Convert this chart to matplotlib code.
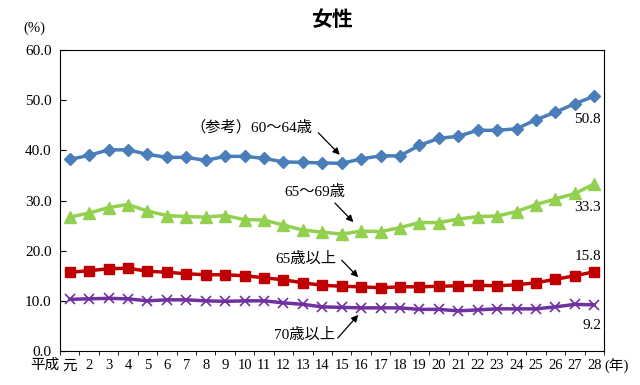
"""女性 employment rate chart."""
import matplotlib.pyplot as plt

plt.rcParams['font.family'] = ['Liberation Serif', 'Noto Sans CJK JP']

# %% Data
years = ['元'] + [str(i) for i in range(2, 29)]

age_60_64 = [38.2, 39.0, 40.1, 40.1, 39.2, 38.6, 38.6, 38.0, 38.8, 38.8,
             38.4, 37.7, 37.6, 37.5, 37.4, 38.3, 38.9, 38.9, 41.0, 42.4,
             42.8, 44.0, 44.0, 44.3, 46.1, 47.6, 49.3, 50.8]
age_65_69 = [26.7, 27.5, 28.6, 29.2, 27.9, 27.0, 26.8, 26.7, 27.0, 26.2,
             26.1, 25.1, 24.1, 23.7, 23.3, 23.9, 23.8, 24.6, 25.6, 25.6,
             26.3, 26.8, 26.9, 27.8, 29.2, 30.3, 31.4, 33.3]
age_65_over = [15.7, 16.0, 16.4, 16.5, 15.9, 15.7, 15.4, 15.2, 15.2, 15.0,
               14.6, 14.2, 13.6, 13.1, 12.9, 12.8, 12.6, 12.8, 12.8, 12.9,
               13.0, 13.1, 13.0, 13.2, 13.6, 14.3, 15.0, 15.8]
age_70_over = [10.3, 10.4, 10.5, 10.4, 10.0, 10.2, 10.2, 10.0, 9.9, 10.0,
               10.0, 9.6, 9.3, 8.8, 8.7, 8.6, 8.6, 8.6, 8.3, 8.3,
               8.0, 8.2, 8.4, 8.4, 8.4, 8.8, 9.3, 9.2]

# %% Plot
fig = plt.figure(figsize=(6.4, 3.85), dpi=100)
ax = fig.add_axes([0.09375, 0.0883, 0.85, 0.7818])
x = list(range(len(years)))

ax.plot(x, age_60_64, color='#4a7ebb', lw=2.5, marker='D', ms=6.5)
ax.plot(x, age_65_69, color='#92d050', lw=2.5, marker='^', ms=8.5)
ax.plot(x, age_65_over, color='#c00000', lw=2.5, marker='s', ms=7.5)
ax.plot(x, age_70_over, color='#7030a0', lw=2.5, marker='x', ms=7, mew=1.2)

ax.set_xlim(-0.5, 27.5)
ax.set_ylim(0, 60)
ax.set_yticks(range(0, 61, 10))
ax.set_yticklabels(['%.1f' % v for v in range(0, 61, 10)], fontsize=11)
ax.tick_params(axis='y', direction='in', length=4, pad=6)
ax.set_xticks(x)
ax.set_xticklabels(years, fontsize=10.5)
ax.tick_params(axis='x', length=0, pad=6)
ax.set_xticks([i - 0.5 for i in range(len(years) + 1)], minor=True)
ax.tick_params(axis='x', which='minor', length=3)
ax.text(-0.55, -0.047, '平成', fontsize=10.5, ha='right', va='center',
        transform=ax.get_xaxis_transform())

ax.set_title('女性', fontsize=15, fontweight='bold', pad=17,
             family=['Noto Sans CJK JP'])
fig.text(0.053, 0.927, '(%)', fontsize=10.5, ha='center', va='center')
fig.text(0.944, 0.049, '(年)', fontsize=10.5, va='center')

# series labels and arrows
arrow = dict(arrowstyle='-|>', color='black', lw=0.9, mutation_scale=10,
             shrinkA=0, shrinkB=0)
ax.text(12.5, 44.6, '（参考）60～64歳', fontsize=11, ha='right', va='center')
ax.annotate('', xy=(13.9, 39.1), xytext=(12.8, 43.5), arrowprops=arrow)
ax.text(12.6, 31.7, '65～69歳', fontsize=11, ha='center', va='center')
ax.annotate('', xy=(14.6, 25.7), xytext=(13.65, 29.5), arrowprops=arrow)
ax.text(12.15, 18.5, '65歳以上', fontsize=11, ha='center', va='center')
ax.annotate('', xy=(14.85, 14.7), xytext=(14.0, 18.1), arrowprops=arrow)
ax.text(12.1, 3.2, '70歳以上', fontsize=11, ha='center', va='center')
ax.annotate('', xy=(14.85, 7.2), xytext=(13.8, 2.6), arrowprops=arrow)

for val, y in [(age_60_64[-1], 46.2), (age_65_69[-1], 28.7),
               (age_65_over[-1], 18.9), (age_70_over[-1], 5.0)]:
    ax.text(27.35, y, '%.1f' % val, fontsize=11, ha='right', va='center')

fig.savefig('out.png')
